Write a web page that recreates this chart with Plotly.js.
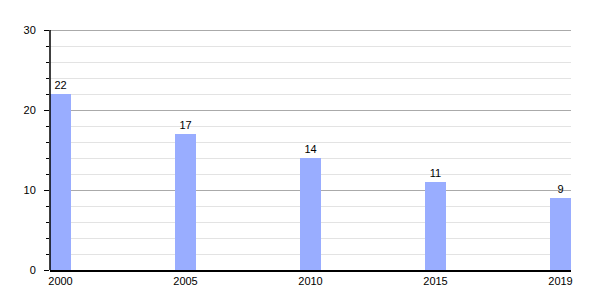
<!DOCTYPE html>
<html>
<head>
<meta charset="utf-8">
<script src="https://cdn.plot.ly/plotly-3.0.1.min.js"></script>
<style>html,body{margin:0;padding:0;background:#fff;}#chart{width:600px;height:300px;}</style>
</head>
<body>
<div id="chart"></div>
<script>
const years = ['2000', '2005', '2010', '2015', '2019'];
const values = [22, 17, 14, 11, 9];
const yTicks = [0, 10, 20, 30];

const barWidth = 0.168;
const trace = {
  type: 'bar',
  x: years,
  y: values,
  width: barWidth,
  marker: {color: '#99adff', line: {width: 0}},
  text: values.map(String),
  textposition: 'outside',
  cliponaxis: false,
  textfont: {family: 'Liberation Sans, Arial, sans-serif', size: 11, color: '#000'},
  hoverinfo: 'none'
};

const layout = {
  width: 600,
  height: 300,
  margin: {l: 50, r: 29, t: 26, b: 30},
  paper_bgcolor: '#fff',
  plot_bgcolor: '#fff',
  showlegend: false,
  font: {family: 'Liberation Sans, Arial, sans-serif', size: 11, color: '#000'},
  xaxis: {
    type: 'category',
    range: [-barWidth / 2, years.length - 1 + barWidth / 2],
    showgrid: false,
    showline: true,
    linecolor: '#000',
    linewidth: 1.5,
    ticks: '',
    tickfont: {size: 11, color: '#000'},
    fixedrange: true
  },
  yaxis: {
    range: [0, 30.5],
    tickvals: yTicks,
    ticktext: yTicks.map(String),
    showline: false,
    ticks: 'outside',
    ticklen: 5,
    tickcolor: '#000',
    ticklabelstandoff: 6,
    showgrid: true,
    gridcolor: '#aaaaaa',
    gridwidth: 1,
    zeroline: false,
    tickfont: {size: 11, color: '#000'},
    minor: {
      dtick: 2,
      ticks: 'outside',
      ticklen: 3,
      tickcolor: '#000',
      showgrid: true,
      gridcolor: '#e3e3e3',
      gridwidth: 1
    },
    fixedrange: true
  },
  shapes: [{
    type: 'line', xref: 'paper', yref: 'y',
    x0: 0, x1: 0, y0: 0, y1: 30,
    line: {color: '#000', width: 1.5}
  }]
};

Plotly.newPlot('chart', [trace], layout, {staticPlot: true, displayModeBar: false});
</script>
</body>
</html>
